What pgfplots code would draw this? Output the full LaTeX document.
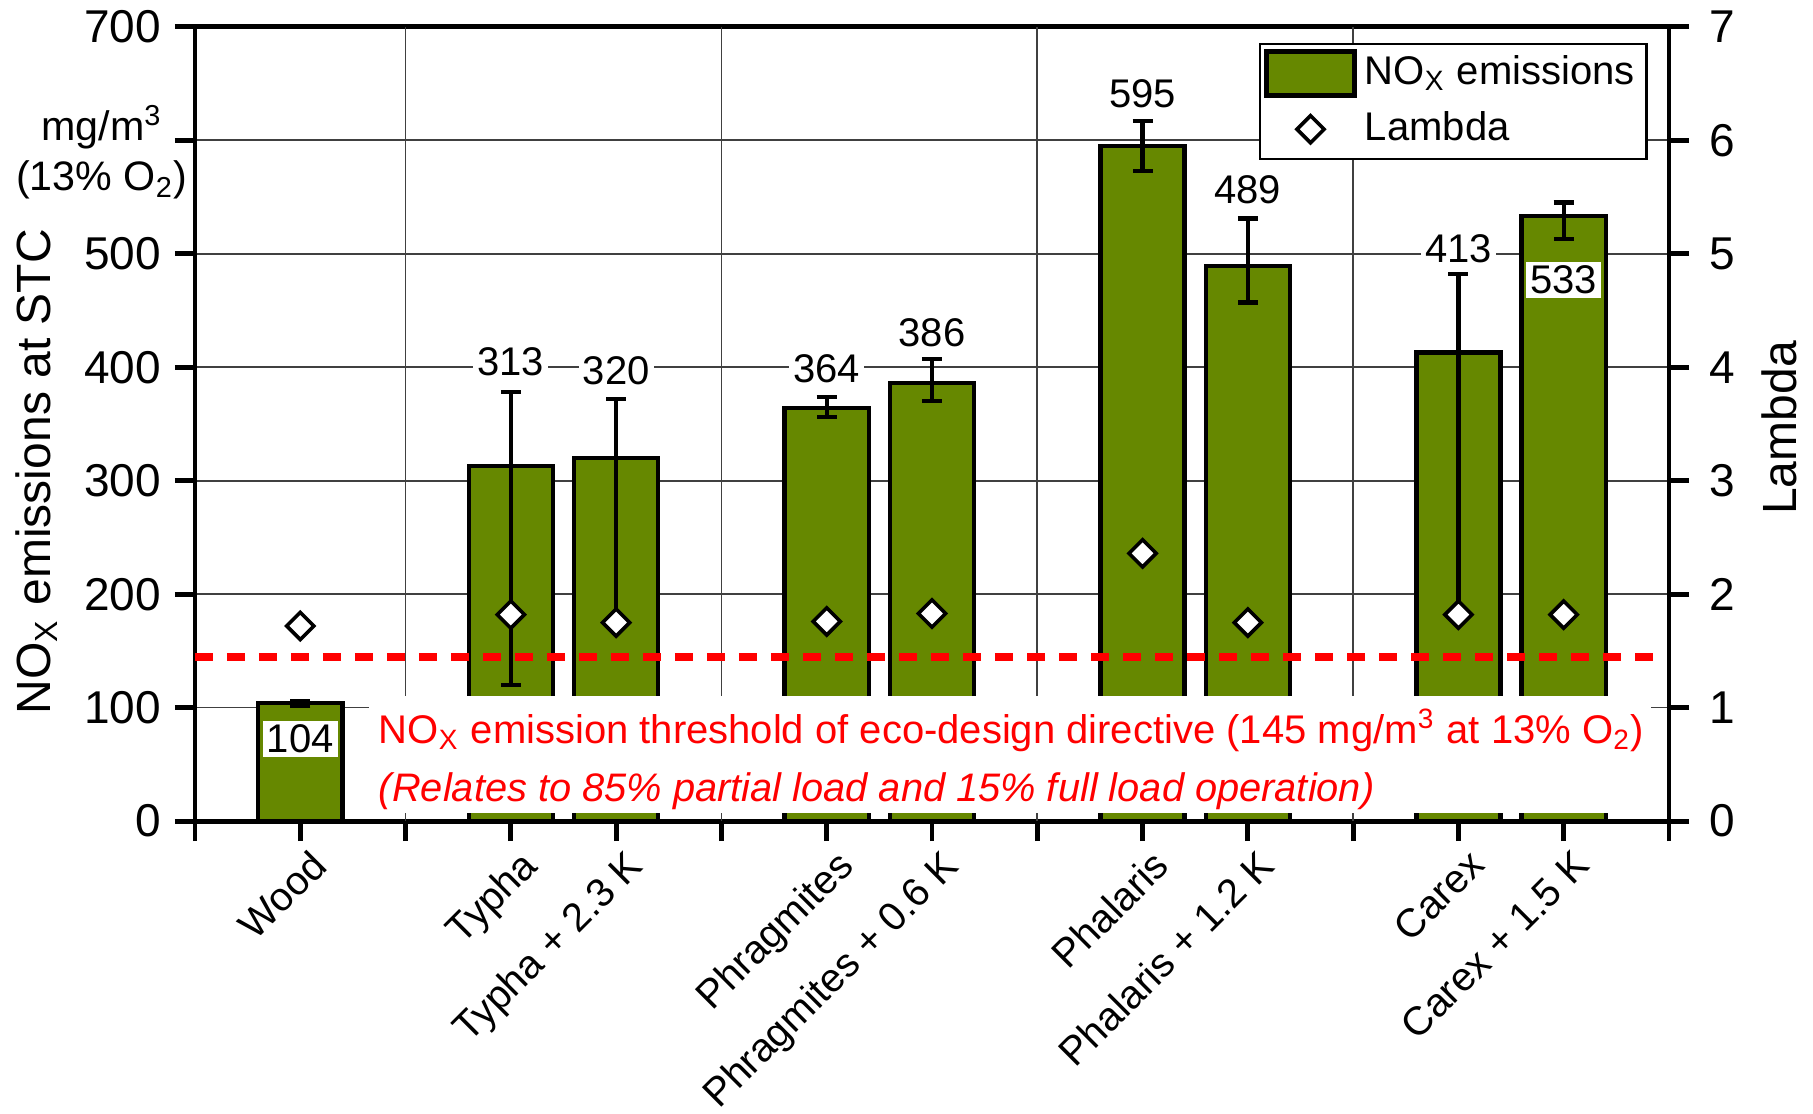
\documentclass[border=0pt]{standalone}
\usepackage{pgfplots}
\pgfplotsset{compat=1.18}
\usepackage{pgfplotstable}
\usepackage{fontspec}
\setmainfont{Liberation Sans}
\definecolor{barcol}{RGB}{102,136,0}

\pgfplotstableread{
x y ep em
1 104 2 2
3 313 65 193
4 320 52 149
6 364 10 8
7 386 21 16
9 595 22 22
10 489 42 32
12 413 69 231
13 533 12 20
}\noxdata

\pgfplotstableread{
x l
1 1.72
3 1.82
4 1.75
6 1.76
7 1.83
9 2.36
10 1.75
12 1.82
13 1.82
}\lambdadata

\begin{document}
\begin{tikzpicture}[font=\fontsize{10.5}{12}\selectfont]
\begin{axis}[
  scale only axis, width=368.5pt, height=198.6pt,
  xmin=0, xmax=14, ymin=0, ymax=700,
  clip=false,
  axis line style={line width=1.2pt},
  xtick={0,...,14},
  xticklabels={,Wood,,Typha,Typha + 2.3 K,,Phragmites,Phragmites + 0.6 K,,Phalaris,Phalaris + 1.2 K,,Carex,Carex + 1.5 K,},
  xtick pos=bottom, ytick pos=left,
  tick align=outside, major tick length=5pt,
  tick style={line width=1.2pt, black},
  ytick={0,100,...,700},
  yticklabels={0,100,200,300,400,500,,700},
  ymajorgrids, grid style={line width=0.4pt, black!75},
  extra x ticks={2,5,8,11}, extra x tick labels={},
  extra x tick style={grid=major, major tick length=0pt},
  /pgf/number format/assume math mode=true,
  xticklabel style={xshift=2pt, rotate=45, anchor=north east, font=\fontsize{10}{12}\selectfont, inner sep=1pt},
  yticklabel style={font=\fontsize{11.5}{13}\selectfont},
]
\addplot[ybar, bar width=0.8, fill=barcol, draw=black, line width=1.1pt,
  error bars/.cd, y dir=both, y explicit,
  error bar style={line width=1.1pt, black},
  error mark options={rotate=90, line width=1.1pt, mark size=2.5pt, black, solid}]
  table[x=x, y=y, y error plus=ep, y error minus=em] {\noxdata};
\fill[white] (axis cs:1.65,7.3) rectangle (axis cs:13.83,110);
\addplot[red, line width=2pt, dash pattern=on 4.5pt off 3.5pt] coordinates {(0,145) (14,145)};
\node[anchor=base west, text=red, font=\fontsize{10.0}{12}\selectfont, inner sep=0pt] at (axis cs:1.74,68.8) {NO\textsubscript{X} emission threshold of eco-design directive (145 mg/m\textsuperscript{3} at 13\% O\textsubscript{2})};
\node[anchor=base west, text=red, font=\fontsize{9.95}{12}\selectfont\itshape, inner sep=0pt] at (axis cs:1.74,17.6) {(Relates to 85\% partial load and 15\% full load operation)};
\tikzset{vl/.style={fill=white, inner sep=1pt, font=\fontsize{10}{12}\selectfont}}
\node[vl] at (axis cs:1,72.6) {104};
\node[vl] at (axis cs:3,405) {313};
\node[vl] at (axis cs:4,397) {320};
\node[vl] at (axis cs:6,399) {364};
\node[vl] at (axis cs:7,430) {386};
\node[vl] at (axis cs:9,641) {595};
\node[vl] at (axis cs:10,556) {489};
\node[vl] at (axis cs:12,504) {413};
\node[vl] at (axis cs:13,477) {533};
\node[rotate=90, font=\fontsize{12}{14}\selectfont] at ([xshift=-39.5pt]axis cs:0,308) {NO\textsubscript{X} emissions at STC};
\node[font=\fontsize{10.3}{12}\selectfont] at ([xshift=-23.25pt]axis cs:0,611.5) {mg/m\textsuperscript{3}};
\node[font=\fontsize{10.3}{12}\selectfont] at ([xshift=-23.25pt]axis cs:0,564.7) {(13\% O\textsubscript{2})};
\end{axis}
\begin{axis}[
  scale only axis, width=368.5pt, height=198.6pt,
  xmin=0, xmax=14, ymin=0, ymax=7,
  axis x line=none, axis y line*=right,
  axis line style={line width=1.2pt},
  ytick={0,...,7}, tick align=outside, major tick length=5pt,
  tick style={line width=1.2pt, black},
  ylabel={Lambda}, ylabel style={font=\fontsize{12}{14}\selectfont, xshift=-1pt},
  /pgf/number format/assume math mode=true,
  yticklabel style={font=\fontsize{11.5}{13}\selectfont, xshift=1.5pt},
  legend style={at={(1,1)}, xshift=-5.3pt, yshift=-4pt, anchor=north east,
    draw=black, line width=0.6pt, fill=white, font=\fontsize{10}{12}\selectfont,
    row sep=1.2pt, inner sep=1pt,
    /tikz/every even column/.append style={column sep=3.8pt}},
  legend cell align=left,
]
\addlegendimage{legend image code/.code={\draw[fill=barcol, draw=black, line width=1.2pt] (0pt,-5.5pt) rectangle (22pt,5.5pt);}}
\addlegendimage{legend image code/.code={\draw[fill=white, draw=black, line width=0.9pt] (11pt,3.4pt) -- (14.4pt,0pt) -- (11pt,-3.4pt) -- (7.6pt,0pt) -- cycle;}}
\addplot[forget plot, only marks, mark=square*, mark size=2.4pt,
  mark options={rotate=45, fill=white, draw=black, line width=0.9pt}]
  table[x=x, y=l] {\lambdadata};
\legend{NO\textsubscript{X} emissions, Lambda}
\end{axis}
\pgfresetboundingbox
\path ([shift={(-48.75pt,-73pt)}]current axis.south west) rectangle ([shift={(36pt,6.7pt)}]current axis.north east);
\end{tikzpicture}
\end{document}
